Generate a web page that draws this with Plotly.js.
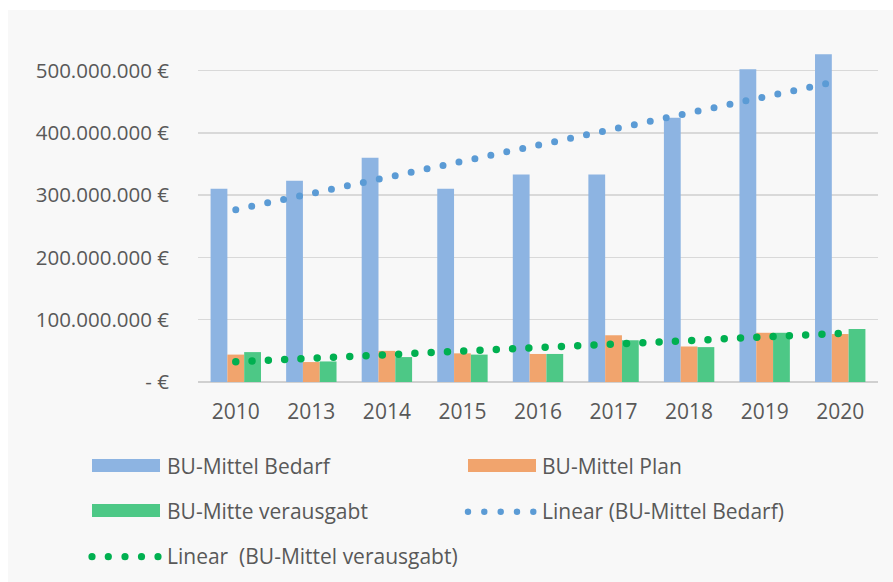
<!DOCTYPE html>
<html>
<head>
<meta charset="utf-8">
<script src="https://cdn.plot.ly/plotly-3.0.1.min.js"></script>
<style>
  html, body { margin: 0; padding: 0; background: #ffffff; width: 893px; height: 582px; overflow: hidden; }
  #chart { position: absolute; left: 8px; top: 10px; width: 885px; height: 572px; }
  .scatterlayer .js-line { stroke-linecap: round; }
</style>
</head>
<body>
<div id="chart"></div>
<script>
// ---- data ----
const years = ["2010", "2013", "2014", "2015", "2016", "2017", "2018", "2019", "2020"];
const bedarf = [310e6, 323e6, 360e6, 310e6, 333e6, 333e6, 424e6, 502e6, 526e6];
const plan = [44e6, 32e6, 50e6, 46e6, 45e6, 75e6, 57e6, 79e6, 77e6];
const verausgabt = [48e6, 33e6, 40e6, 44e6, 45e6, 67e6, 56e6, 79e6, 85e6];
const yTickVals = [0, 100e6, 200e6, 300e6, 400e6, 500e6];
const yTickText = ["- €", "100.000.000 €", "200.000.000 €", "300.000.000 €", "400.000.000 €", "500.000.000 €"];
const seriesNames = ["BU-Mittel Bedarf", "BU-Mittel Plan", "BU-Mitte verausgabt",
                     "Linear (BU-Mittel Bedarf)", "Linear\u00a0 (BU-Mittel verausgabt)"];

// least-squares linear trend (Excel "Linear" trendline) evaluated at each category
function linearTrend(vals) {
  const n = vals.length;
  const xs = vals.map((_, i) => i + 1);
  const mx = xs.reduce((a, b) => a + b, 0) / n;
  const my = vals.reduce((a, b) => a + b, 0) / n;
  let sxy = 0, sxx = 0;
  for (let i = 0; i < n; i++) { sxy += (xs[i] - mx) * (vals[i] - my); sxx += (xs[i] - mx) ** 2; }
  const b = sxy / sxx, a = my - b * mx;
  return xs.map(x => a + b * x);
}

// ---- style ----
const C_BLUE = "#8DB4E2", C_ORANGE = "#F1A46D", C_GREEN = "#4DC886";
const C_TBLUE = "#5B9BD5", C_TGREEN = "#00B050";
const TXT = "#595959";
const FONT = "Open Sans";

const traces = [
  { type: "bar", x: years, y: bedarf, name: seriesNames[0], marker: { color: C_BLUE } },
  { type: "bar", x: years, y: plan, name: seriesNames[1], marker: { color: C_ORANGE } },
  { type: "bar", x: years, y: verausgabt, name: seriesNames[2], marker: { color: C_GREEN } },
  { type: "scatter", mode: "lines", x: years, y: linearTrend(bedarf), name: seriesNames[3],
    line: { color: C_TBLUE, width: 7, dash: "0px,16.3px" } },
  { type: "scatter", mode: "lines", x: years, y: linearTrend(verausgabt), name: seriesNames[4],
    line: { color: C_TGREEN, width: 7.5, dash: "0px,16.3px" } }
];

// manual legend (pixel positions in page coordinates -> paper coordinates)
const PL = 198, PW = 680, PB = 382, PH = 352;
const px = x => (x - PL) / PW;
const py = y => (PB - y) / PH;

const shapes = [];
const annotations = [];
function rectItem(x0, x1, y0, y1, color) {
  shapes.push({ type: "rect", xref: "paper", yref: "paper", x0: px(x0), x1: px(x1), y0: py(y1), y1: py(y0),
    fillcolor: color, line: { width: 0 } });
}
function dotItem(xs, y, color, r) {
  xs.forEach(x => shapes.push({ type: "circle", xref: "paper", yref: "paper",
    xsizemode: "pixel", ysizemode: "pixel", xanchor: px(x), yanchor: py(y),
    x0: -r, x1: r, y0: -r, y1: r, fillcolor: color, line: { width: 0 } }));
}
function label(x, y, text) {
  annotations.push({ xref: "paper", yref: "paper", x: px(x), y: py(y), xanchor: "left", yanchor: "middle",
    text: text, showarrow: false, font: { family: FONT, size: 21, color: TXT } });
}
rectItem(92, 160, 459, 472, C_BLUE);   label(165, 466, seriesNames[0]);
rectItem(468, 536, 459, 472, C_ORANGE); label(540, 466, seriesNames[1]);
rectItem(92, 160, 504, 517, C_GREEN);  label(165, 511, seriesNames[2]);
dotItem([468, 484.3, 500.7, 517, 533.3], 511.7, C_TBLUE, 3.2);  label(540, 511, seriesNames[3]);
dotItem([92, 108.3, 125, 141.5, 158], 556.7, C_TGREEN, 3.6);  label(165, 556, seriesNames[4]);

const layout = {
  width: 885, height: 572,
  margin: { l: 190, r: 15, t: 20, b: 200 },
  paper_bgcolor: "#F8F8F8", plot_bgcolor: "#F8F8F8",
  showlegend: false,
  barmode: "group", bargap: 0.333, bargroupgap: 0,
  font: { family: FONT, color: TXT },
  xaxis: {
    type: "category", showgrid: false, zeroline: false,
    showline: false, ticks: "",
    tickfont: { family: FONT, size: 21, color: TXT },
    ticklabelstandoff: 15
  },
  yaxis: {
    range: [0, 565e6], tickmode: "array", tickvals: yTickVals, ticktext: yTickText,
    showgrid: true, gridcolor: "#D9D9D9", gridwidth: 1.5,
    zeroline: true, zerolinecolor: "#D0D0D0", zerolinewidth: 1.5,
    showline: false, ticks: "",
    tickfont: { family: FONT, size: 20.5, color: TXT },
    ticklabelstandoff: 28
  },
  shapes: shapes,
  annotations: annotations
};

Plotly.newPlot("chart", traces, layout, { displayModeBar: false, staticPlot: true });
</script>
</body>
</html>
